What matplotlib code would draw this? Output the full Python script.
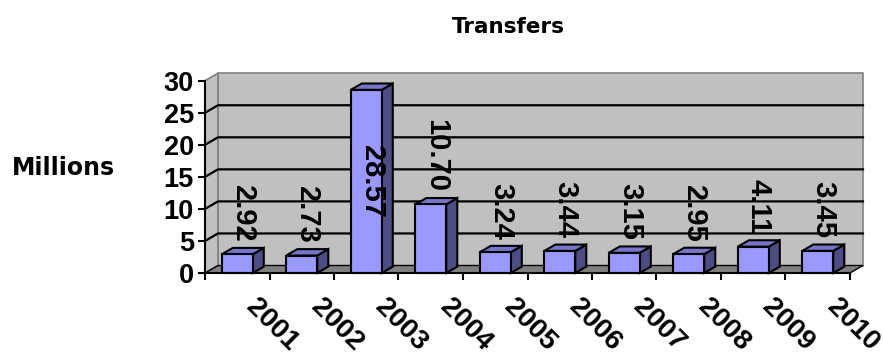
import matplotlib
matplotlib.use("Agg")
import matplotlib.pyplot as plt
from matplotlib.patches import Polygon
from matplotlib.transforms import ScaledTranslation

# Data
years = ["2001", "2002", "2003", "2004", "2005", "2006", "2007", "2008", "2009", "2010"]
transfers = [2.92, 2.73, 28.57, 10.70, 3.24, 3.44, 3.15, 2.95, 4.11, 3.45]
y_ticks = [0, 5, 10, 15, 20, 25, 30]
title = "Transfers"
y_title = "Millions"

# Layout (pixels)
W, H = 883, 356
left_px, right_px = 205, 850
base_px, top_px = 273, 80.7
ymax = 30
n = len(years)

fig = plt.figure(figsize=(W / 100, H / 100), dpi=100)
ax = fig.add_axes([left_px / W, 1 - base_px / H,
                   (right_px - left_px) / W, (base_px - top_px) / H])
ax.set_xlim(0, n)
ax.set_ylim(0, ymax)
ax.patch.set_visible(False)

# pixel -> data scale, and depth offsets of the 3-D box
sx = n / (right_px - left_px)
sy = ymax / (base_px - top_px)
DX = 13 * sx
DY = 7.5 * sy

wall_c = "#C0C0C0"
edge_c = "#808080"
floor_c = "#808080"

# back wall, side wall, floor
ax.add_patch(Polygon([(DX, DY), (n + DX, DY), (n + DX, ymax + DY), (DX, ymax + DY)],
                     closed=True, fc=wall_c, ec=edge_c, lw=1.2, clip_on=False, zorder=1))
ax.add_patch(Polygon([(0, 0), (DX, DY), (DX, ymax + DY), (0, ymax)],
                     closed=True, fc=wall_c, ec=edge_c, lw=1.2, clip_on=False, zorder=1))
ax.add_patch(Polygon([(0, 0), (n, 0), (n + DX, DY), (DX, DY)],
                     closed=True, fc=floor_c, ec="black", lw=1.0, clip_on=False, zorder=2))

# gridlines across side wall and back wall
for v in y_ticks[1:-1]:
    ax.plot([0, DX, n + DX], [v, v + DY, v + DY], color="black", lw=1.6,
            clip_on=False, zorder=2, solid_joinstyle="miter")

# bars
front_c = "#9999FF"
top_c = "#7676C9"
side_c = "#4D4D85"
bw = 0.48
bd = 0.85
ddx, ddy = DX * bd, DY * bd
digit_font = "Liberation Sans"
labels = []
for i, v in enumerate(transfers):
    c = i + 0.5
    x0, x1 = c - bw / 2, c + bw / 2
    z = 3 + i * 0.01
    ax.add_patch(Polygon([(x1, 0), (x1 + ddx, ddy), (x1 + ddx, v + ddy), (x1, v)],
                         closed=True, fc=side_c, ec="black", lw=1.5, joinstyle="miter",
                         clip_on=False, zorder=z))
    ax.add_patch(Polygon([(x0, v), (x1, v), (x1 + ddx, v + ddy), (x0 + ddx, v + ddy)],
                         closed=True, fc=top_c, ec="black", lw=1.5, joinstyle="miter",
                         clip_on=False, zorder=z))
    ax.add_patch(Polygon([(x0, 0), (x1, 0), (x1, v), (x0, v)],
                         closed=True, fc=front_c, ec="black", lw=1.5, joinstyle="miter",
                         clip_on=False, zorder=z))
    t = ax.text(c + ddx / 2, v + 2.0, f"{v:.2f}", rotation=270, ha="center", va="bottom",
                fontsize=21, fontweight="bold", family=digit_font, zorder=10, clip_on=False)
    labels.append((t, c + ddx / 2, v))

# axes lines and ticks
for s in ("top", "right"):
    ax.spines[s].set_visible(False)
for s in ("left", "bottom"):
    ax.spines[s].set_linewidth(1.5)
    ax.spines[s].set_zorder(5)
ax.set_yticks(y_ticks)
ax.set_yticklabels([str(t) for t in y_ticks], fontsize=19.5, fontweight="bold", family=digit_font)
ax.set_xticks(range(n + 1))
ax.set_xticklabels([])
ax.tick_params(axis="both", length=5, width=1.5, direction="out", pad=3)

# category labels, rotated
offs = ax.transData + ScaledTranslation(35 / 100, -52 / 100, fig.dpi_scale_trans)
for i, yr in enumerate(years):
    ax.text(i + 0.5, 0, yr, transform=offs, rotation=-45, ha="center", va="center",
            fontsize=20, fontweight="bold", family=digit_font)

fig.text(508 / W, 1 - 27 / H, title, ha="center", va="center",
         fontsize=15.5, fontweight="bold", family="DejaVu Sans")
fig.text(63 / W, 1 - 168 / H, y_title, ha="center", va="center",
         fontsize=17, fontweight="bold", family="DejaVu Sans")

# labels that would run past the top of the wall go inside their bar
fig.canvas.draw()
renderer = fig.canvas.get_renderer()
top_limit = ax.transData.transform((0, ymax + DY))[1]
for t, x, v in labels:
    bb = t.get_window_extent(renderer)
    if bb.y1 > top_limit:
        t.set_position((x, v / 2))
        t.set_va("center")

fig.savefig("out.png", dpi=100)
